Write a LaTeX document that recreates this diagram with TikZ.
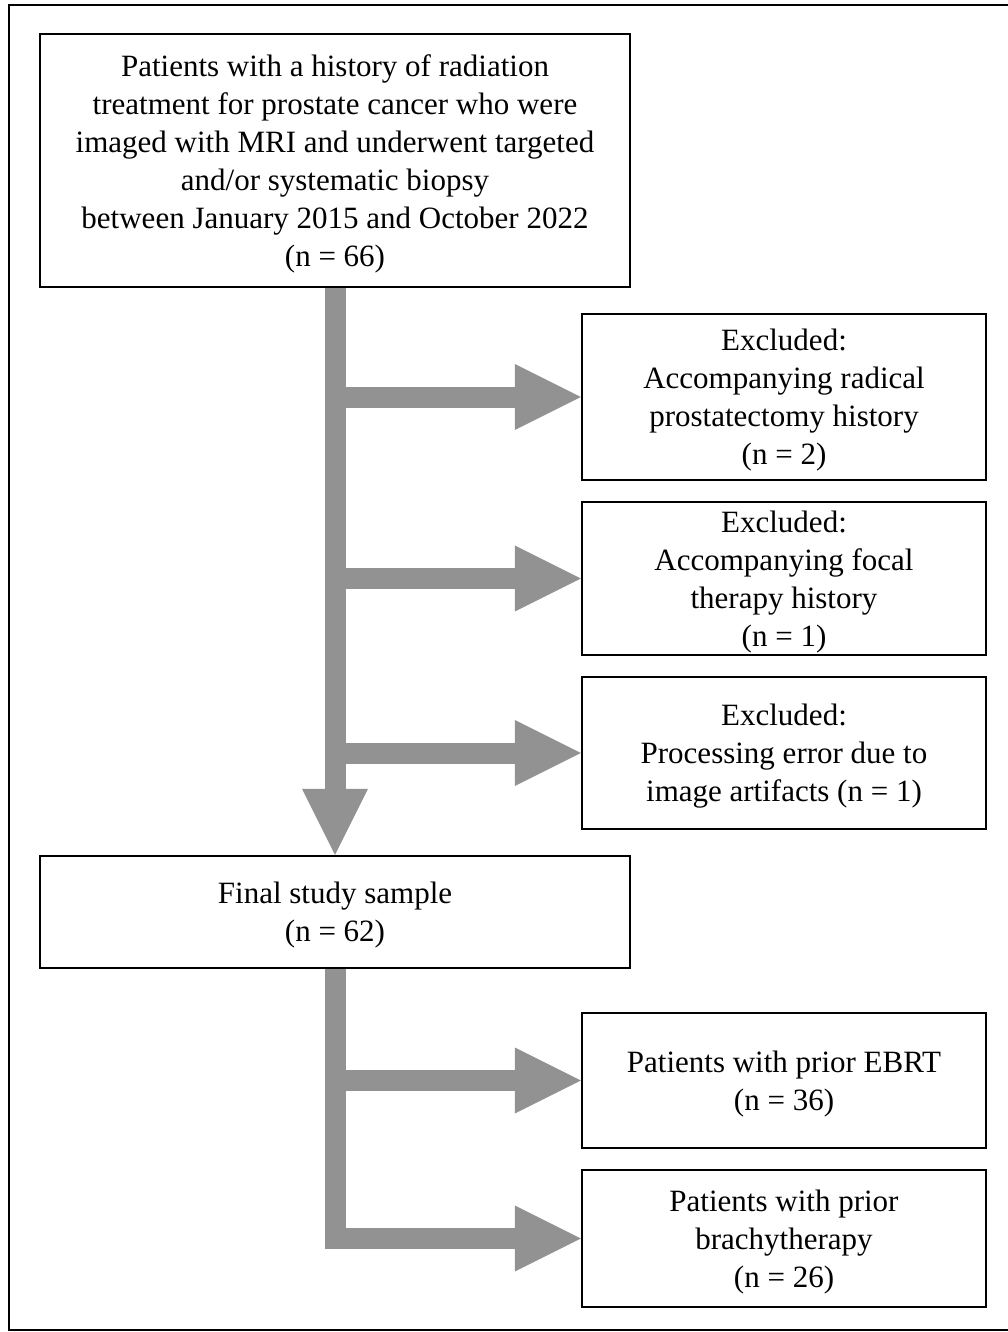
\documentclass[tikz,border=0pt]{standalone}
\usepackage{fontspec}
\setmainfont{Liberation Serif}
\usetikzlibrary{arrows.meta}
\definecolor{ArrowGray}{HTML}{929292}

\begin{document}
\begin{tikzpicture}[x=1pt, y=-1pt,
    box/.style={draw, line width=2.4pt, align=center, inner sep=0pt,
      font=\fontsize{31}{38}\selectfont, text depth=-5.5pt},
    side/.style={box, minimum width=404pt},
    flow/.style={draw=ArrowGray, line width=21pt,
      -{Triangle[length=66pt, width=66pt, line width=0pt]}}]
        \useasboundingbox (0,0) rectangle (1008,1332);
        \draw[line width=2.6pt] (9,5) rectangle (1015,1330);
        \node[box, minimum width=590pt, minimum height=253pt] (history) at (335,160.5)
            {Patients with a history of radiation\\ treatment for prostate cancer who were\\
             imaged with MRI and underwent targeted\\ and/or systematic biopsy\\
             between January 2015 and October 2022\\ (n = 66)};
        \node[side, minimum height=166pt] (exRadical) at (784,397)
            {Excluded:\\ Accompanying radical\\ prostatectomy history\\ (n = 2)};
        \node[side, minimum height=153pt] (exFocal) at (784,578.5)
            {Excluded:\\ Accompanying focal\\ therapy history\\ (n = 1)};
        \node[side, minimum height=152pt] (exArtifact) at (784,753)
            {Excluded:\\ Processing error due to\\ image artifacts (n = 1)};
        \node[box, minimum width=590pt, minimum height=112pt] (final) at (335,912)
            {Final study sample\\ (n = 62)};
        \node[side, minimum height=135pt] (ebrt) at (784,1080.5)
            {Patients with prior EBRT\\ (n = 36)};
        \node[side, minimum height=137pt] (brachy) at (784,1238.5)
            {Patients with prior\\ brachytherapy\\ (n = 26)};
        \draw[flow] (history.south) -- (final.north);
        \foreach \ex in {exRadical, exFocal, exArtifact} {
            \draw[flow] (\ex.west -| history.south) -- (\ex.west);
        }
        \draw[flow] (final.south) |- (brachy.west);
        \draw[flow] (ebrt.west -| final.south) -- (ebrt.west);
\end{tikzpicture}
\end{document}
